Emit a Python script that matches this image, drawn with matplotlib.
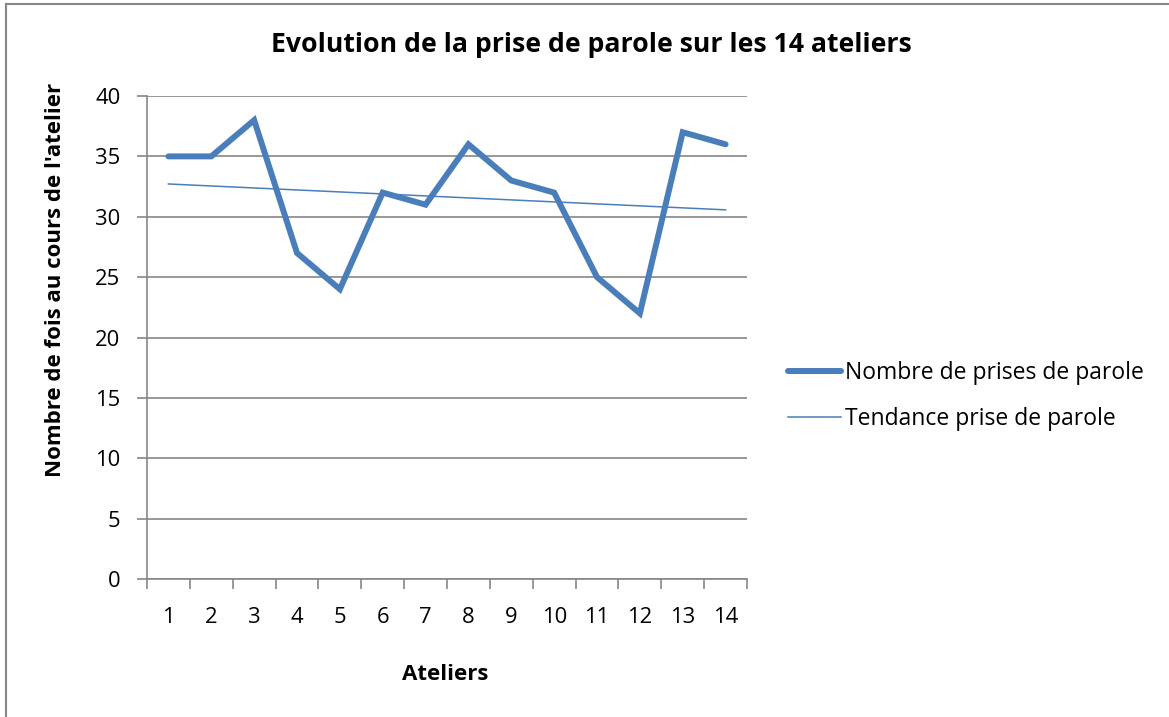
import numpy as np
import matplotlib
matplotlib.use("Agg")
import matplotlib.pyplot as plt
from matplotlib.lines import Line2D

plt.rcParams["font.family"] = ["Open Sans", "DejaVu Sans"]

# Data
ateliers = np.arange(1, 15)
prises = [35, 35, 38, 27, 24, 32, 31, 36, 33, 32, 25, 22, 37, 36]
yticks = [0, 5, 10, 15, 20, 25, 30, 35, 40]

# Linear trend (same as the Excel trendline)
slope, intercept = np.polyfit(ateliers, prises, 1)
tendance = slope * ateliers + intercept

blue = "#4A7EBB"
grey = "#868686"

fig = plt.figure(figsize=(11.69, 7.17), dpi=100)
ax = fig.add_axes([147 / 1169, 1 - 579 / 717, 600 / 1169, 483 / 717])

ax.plot(ateliers, prises, color=blue, lw=4.3, solid_capstyle="round",
        solid_joinstyle="miter", label="Nombre de prises de parole", zorder=3)
ax.plot(ateliers, tendance, color=blue, lw=1.1, label="Tendance prise de parole", zorder=3)

ax.set_xlim(0.5, 14.5)
ax.set_ylim(0, 40)
ax.set_yticks(yticks)
ax.grid(axis="y", color=grey, lw=1.2)
ax.set_axisbelow(True)

# category axis: ticks between categories, labels centred
ax.set_xticks(np.arange(0.5, 15, 1))
ax.set_xticklabels([])
ax.set_xticks(ateliers, minor=True)
ax.set_xticklabels([str(a) for a in ateliers], minor=True)
ax.tick_params(axis="x", which="major", direction="out", length=7, width=1.2, color=grey)
ax.tick_params(axis="x", which="minor", length=0, pad=20, labelsize=15.8)
ax.tick_params(axis="y", direction="out", length=7, width=1.2, color=grey, pad=12, labelsize=15.8)

for s in ["top", "right"]:
    ax.spines[s].set_visible(False)
for s in ["left", "bottom"]:
    ax.spines[s].set_color(grey)
    ax.spines[s].set_linewidth(1.2)

fig.text(591 / 1169, 1 - 45 / 717, "Evolution de la prise de parole sur les 14 ateliers",
         ha="center", va="center", fontsize=19.2, fontweight="bold")
fig.text(56 / 1169, 1 - 280 / 717, "Nombre de fois au cours de l'atelier",
         ha="center", va="center", rotation=90, fontsize=16, fontweight="bold")
fig.text(445 / 1169, 1 - 675 / 717, "Ateliers", ha="center", va="center",
         fontsize=16, fontweight="bold")

fig.legend(loc="upper left", bbox_to_anchor=(779 / 1169, 1 - 352 / 717),
           frameon=False, fontsize=16.5, handlelength=2.3, handletextpad=0.2,
           labelspacing=0.95, borderaxespad=0)

# chart area border (top and left edges visible)
fig.add_artist(Line2D([6 / 1169, 1], [1 - 4 / 717, 1 - 4 / 717], color=grey, lw=1.5))
fig.add_artist(Line2D([6 / 1169, 6 / 1169], [0, 1 - 4 / 717], color=grey, lw=1.5))

fig.savefig("out.png", dpi=100)
